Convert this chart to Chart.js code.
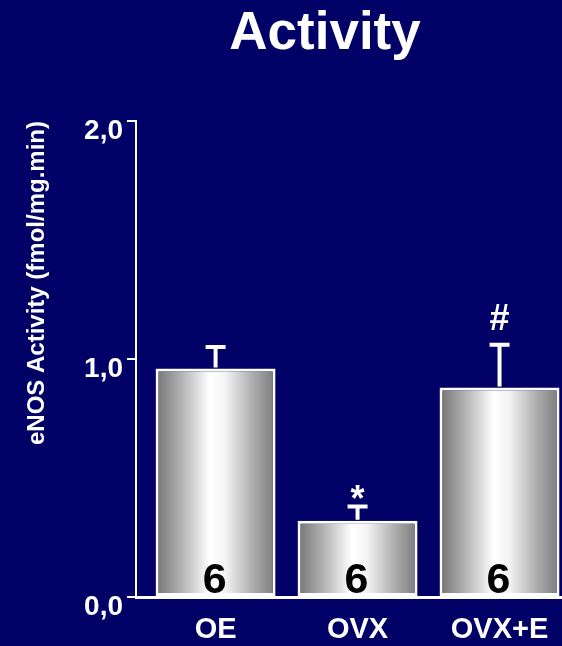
<!DOCTYPE html>
<html>
<head>
<meta charset="utf-8">
<title>eNOS activity</title>
<script src="https://cdn.jsdelivr.net/npm/chart.js@4"></script>
<style>
  html, body { margin: 0; padding: 0; background: #000066; }
  canvas { display: block; }
</style>
</head>
<body>
<canvas id="activityChart" width="562" height="646"></canvas>
<script>
// groups, mean activity, SEM and number of animals per group
const groups = ['OE', 'OVX', 'OVX+E'];
const activity = [0.96, 0.32, 0.88];
const sem = [0.09, 0.06, 0.18];
const nAnimals = [6, 6, 6];
const signif = ['', '*', '#'];
const yTicks = [0, 1, 2];

const FONT = '"Liberation Sans", Arial, Helvetica, sans-serif';
const BAR_PCT = 0.845;

// silver gradient across each bar
function barFill(c) {
  const chart = c.chart;
  const x = chart.scales.x;
  if (!x || c.dataIndex === undefined) return '#cccccc';
  const half = (x.getPixelForValue(1) - x.getPixelForValue(0)) * BAR_PCT / 2;
  const cx = x.getPixelForValue(c.dataIndex);
  if (!isFinite(half) || !isFinite(cx)) return '#cccccc';
  const g = chart.ctx.createLinearGradient(cx - half, 0, cx + half, 0);
  g.addColorStop(0, '#737373');
  g.addColorStop(0.22, '#b4b4b4');
  g.addColorStop(0.45, '#ffffff');
  g.addColorStop(0.58, '#f4f4f4');
  g.addColorStop(0.8, '#b0b0b0');
  g.addColorStop(1, '#7a7a7a');
  return g;
}

// error bars, significance marks, n inside the bars and the heading
const extras = {
  id: 'extras',
  afterDatasetsDraw(chart) {
    const { ctx, scales: { x, y } } = chart;
    const base = y.getPixelForValue(0);
    ctx.save();
    ctx.strokeStyle = '#ffffff';
    ctx.fillStyle = '#ffffff';
    ctx.lineWidth = 4;
    const gapAbove = { '*': 6, '#': 13 };
    groups.forEach((g, i) => {
      const cx = x.getPixelForValue(i);
      const top = y.getPixelForValue(activity[i]);
      const capY = y.getPixelForValue(activity[i] + sem[i]);
      ctx.beginPath();
      ctx.moveTo(cx, top - 1);
      ctx.lineTo(cx, capY);
      ctx.moveTo(cx - 10, capY);
      ctx.lineTo(cx + 10, capY);
      ctx.stroke();

      if (signif[i]) {
        ctx.font = 'bold 36px ' + FONT;
        ctx.textAlign = 'center';
        ctx.textBaseline = 'alphabetic';
        const m = ctx.measureText(signif[i]);
        const yb = capY - 2 - gapAbove[signif[i]] - m.actualBoundingBoxDescent;
        ctx.fillText(signif[i], cx, yb);
      }

      ctx.fillStyle = '#000000';
      ctx.font = 'bold 43px ' + FONT;
      ctx.textAlign = 'center';
      ctx.textBaseline = 'alphabetic';
      ctx.fillText(String(nAnimals[i]), cx - 1, base - 4);
      ctx.fillStyle = '#ffffff';
    });

    ctx.font = 'bold 53px ' + FONT;
    ctx.textAlign = 'center';
    ctx.textBaseline = 'alphabetic';
    ctx.fillText('Activity', 325, 49);
    ctx.restore();
  }
};

new Chart(document.getElementById('activityChart'), {
  type: 'bar',
  data: {
    datasets: [{
      data: activity.map((v, i) => ({ x: i, y: v })),
      backgroundColor: barFill,
      borderColor: '#ffffff',
      borderWidth: 3,
      borderSkipped: false,
      categoryPercentage: 1,
      barPercentage: BAR_PCT
    }]
  },
  options: {
    responsive: false,
    animation: false,
    layout: { padding: { top: 121, right: 0, bottom: 0, left: 0 } },
    plugins: {
      legend: { display: false },
      tooltip: { enabled: false }
    },
    scales: {
      x: {
        type: 'linear',
        min: -0.5606,
        max: 2.44,
        bounds: 'data',
        offset: false,
        afterBuildTicks: s => { s.ticks = groups.map((g, i) => ({ value: i })); },
        afterFit: s => { s.height = 49; },
        grid: { display: false },
        border: { color: '#ffffff', width: 3 },
        ticks: {
          autoSkip: false,
          maxRotation: 0,
          padding: 8,
          color: '#ffffff',
          font: { family: FONT, size: 29, weight: 'bold', lineHeight: 1.2 },
          callback: v => groups[v] ?? ''
        }
      },
      y: {
        min: 0,
        max: 2,
        afterFit: s => { s.width = 136; },
        afterBuildTicks: s => { s.ticks = yTicks.map(v => ({ value: v })); },
        grid: { drawOnChartArea: false, color: '#ffffff', lineWidth: 2, tickLength: 9 },
        border: { color: '#ffffff', width: 2 },
        ticks: {
          padding: 4,
          labelOffset: 10,
          color: '#ffffff',
          font: { family: FONT, size: 28, weight: 'bold' },
          callback: v => v.toFixed(1).replace('.', ',')
        },
        title: {
          display: true,
          text: 'eNOS Activity (fmol/mg.min)',
          align: 'end',
          color: '#ffffff',
          padding: { top: 23, bottom: 0 },
          font: { family: FONT, size: 24, weight: 'bold', lineHeight: 1.2 }
        }
      }
    }
  },
  plugins: [extras]
});
</script>
</body>
</html>
